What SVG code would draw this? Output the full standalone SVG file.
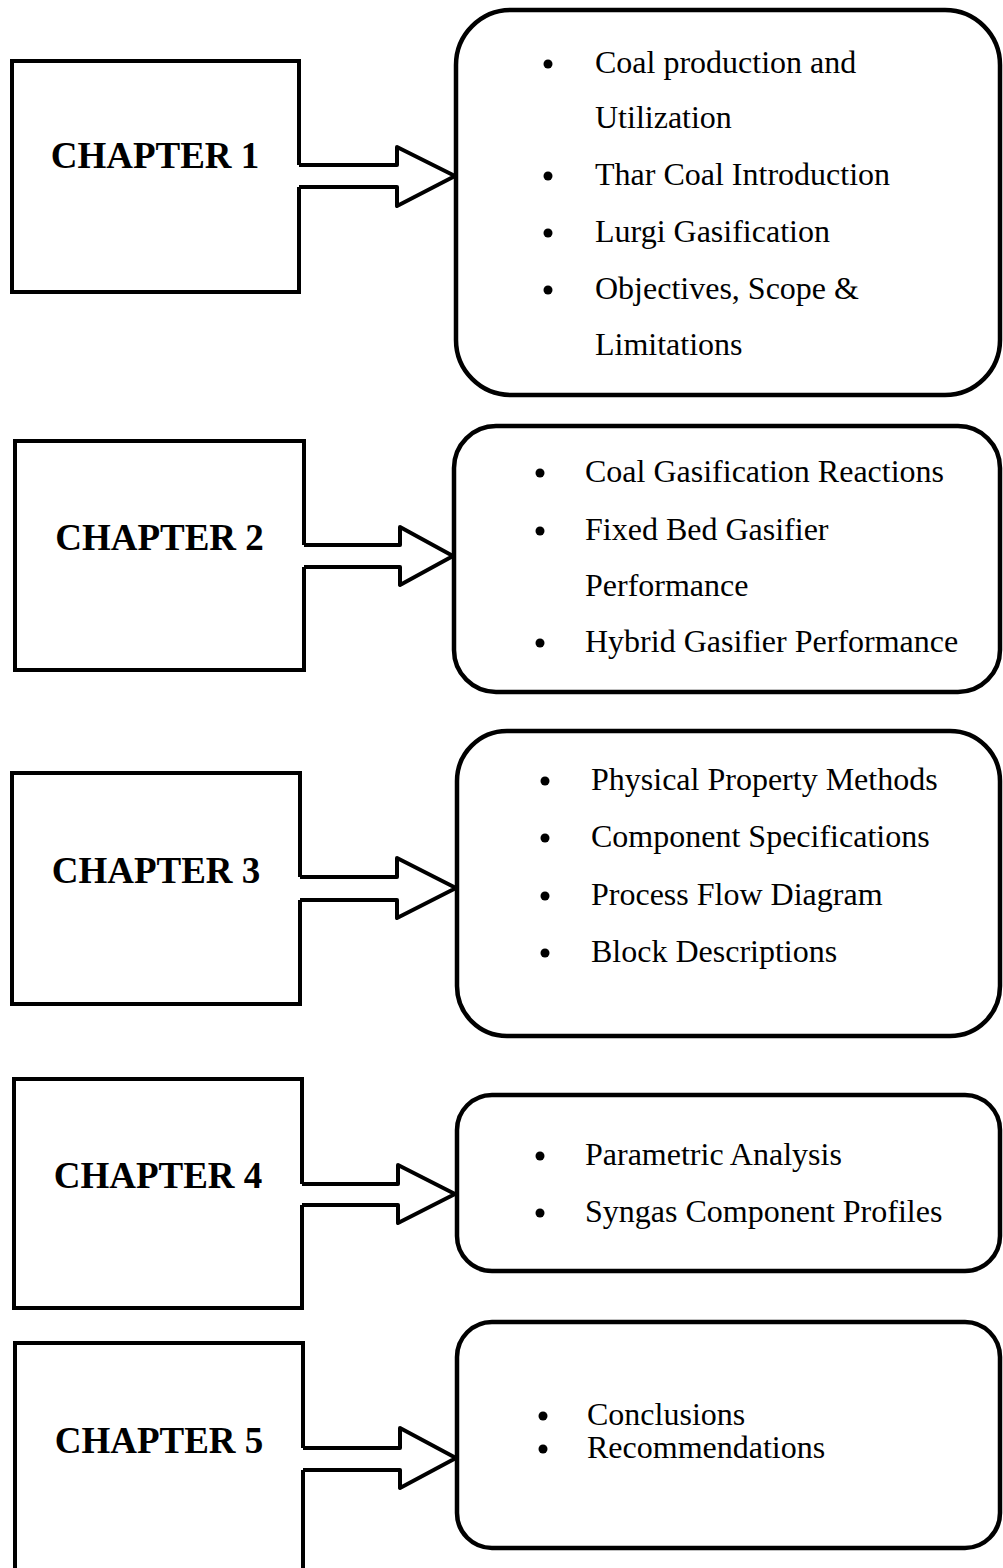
<svg xmlns="http://www.w3.org/2000/svg" width="1003" height="1568" viewBox="0 0 1003 1568">
<style>
.box{fill:none;stroke:#000;stroke-width:4;stroke-linejoin:miter}
.rb{fill:#fff;stroke:#000;stroke-width:4.5}
.arr{fill:none;stroke:#000;stroke-width:4;stroke-linejoin:round}
.ch{font-family:"Liberation Serif","Times New Roman",serif;font-weight:bold;font-size:37px;fill:#000;text-anchor:middle}
.it{font-family:"Liberation Serif","Times New Roman",serif;font-size:32px;fill:#000}
.bu{fill:#000}
</style>
<rect width="1003" height="1568" fill="#fff"/>
<g id="chapter1">
<path class="box" d="M299,165 V61 H12 V292 H299 V187"/>
<text class="ch" x="155" y="168">CHAPTER 1</text>
</g>
<g id="topics1">
<rect class="rb" x="456" y="10" width="544" height="385" rx="55"/>
<circle class="bu" cx="548" cy="64" r="4.5"/><text class="it" x="595" y="73">Coal production and</text>
<text class="it" x="595" y="128">Utilization</text>
<circle class="bu" cx="548" cy="176" r="4.5"/><text class="it" x="595" y="185">Thar Coal Introduction</text>
<circle class="bu" cx="548" cy="233" r="4.5"/><text class="it" x="595" y="242">Lurgi Gasification</text>
<circle class="bu" cx="548" cy="290" r="4.5"/><text class="it" x="595" y="299">Objectives, Scope &amp;</text>
<text class="it" x="595" y="355">Limitations</text>
</g>
<g id="chapter2">
<path class="box" d="M304,545 V441 H15 V670 H304 V567"/>
<text class="ch" x="159.5" y="550">CHAPTER 2</text>
</g>
<g id="topics2">
<rect class="rb" x="454" y="426" width="546" height="266" rx="42"/>
<circle class="bu" cx="540" cy="473" r="4.5"/><text class="it" x="585" y="482">Coal Gasification Reactions</text>
<circle class="bu" cx="540" cy="531" r="4.5"/><text class="it" x="585" y="540">Fixed Bed Gasifier</text>
<text class="it" x="585" y="596">Performance</text>
<circle class="bu" cx="540" cy="643" r="4.5"/><text class="it" x="585" y="652">Hybrid Gasifier Performance</text>
</g>
<g id="chapter3">
<path class="box" d="M300,877 V773 H12 V1004 H300 V900"/>
<text class="ch" x="156" y="883">CHAPTER 3</text>
</g>
<g id="topics3">
<rect class="rb" x="457" y="731" width="543" height="305" rx="50"/>
<circle class="bu" cx="545" cy="781" r="4.5"/><text class="it" x="591" y="790">Physical Property Methods</text>
<circle class="bu" cx="545" cy="838" r="4.5"/><text class="it" x="591" y="847">Component Specifications</text>
<circle class="bu" cx="545" cy="896" r="4.5"/><text class="it" x="591" y="905">Process Flow Diagram</text>
<circle class="bu" cx="545" cy="953" r="4.5"/><text class="it" x="591" y="962">Block Descriptions</text>
</g>
<g id="chapter4">
<path class="box" d="M302,1184 V1079 H14 V1308 H302 V1205"/>
<text class="ch" x="158" y="1188">CHAPTER 4</text>
</g>
<g id="topics4">
<rect class="rb" x="457" y="1095" width="543" height="176" rx="35"/>
<circle class="bu" cx="540" cy="1156" r="4.5"/><text class="it" x="585" y="1165">Parametric Analysis</text>
<circle class="bu" cx="540" cy="1213" r="4.5"/><text class="it" x="585" y="1222">Syngas Component Profiles</text>
</g>
<g id="chapter5">
<path class="box" d="M303,1448 V1343 H15 V1580 M303,1580 V1470"/>
<text class="ch" x="159" y="1453">CHAPTER 5</text>
</g>
<g id="topics5">
<rect class="rb" x="457" y="1322" width="543" height="226" rx="35"/>
<circle class="bu" cx="543" cy="1416" r="4.5"/><text class="it" x="587" y="1425">Conclusions</text>
<circle class="bu" cx="543" cy="1449" r="4.5"/><text class="it" x="587" y="1458">Recommendations</text>
</g>
<g id="connectors">
<path class="arr" d="M299,165 H397 V147 L455,176 L397,206 V187 H299"/>
<path class="arr" d="M304,545 H400 V527 L453,556 L400,585 V567 H304"/>
<path class="arr" d="M300,877 H397 V858 L456,888 L397,918 V900 H300"/>
<path class="arr" d="M302,1184 H398 V1165 L455,1194 L398,1223 V1205 H302"/>
<path class="arr" d="M303,1448 H400 V1428 L456,1458 L400,1488 V1470 H303"/>
</g>
</svg>
